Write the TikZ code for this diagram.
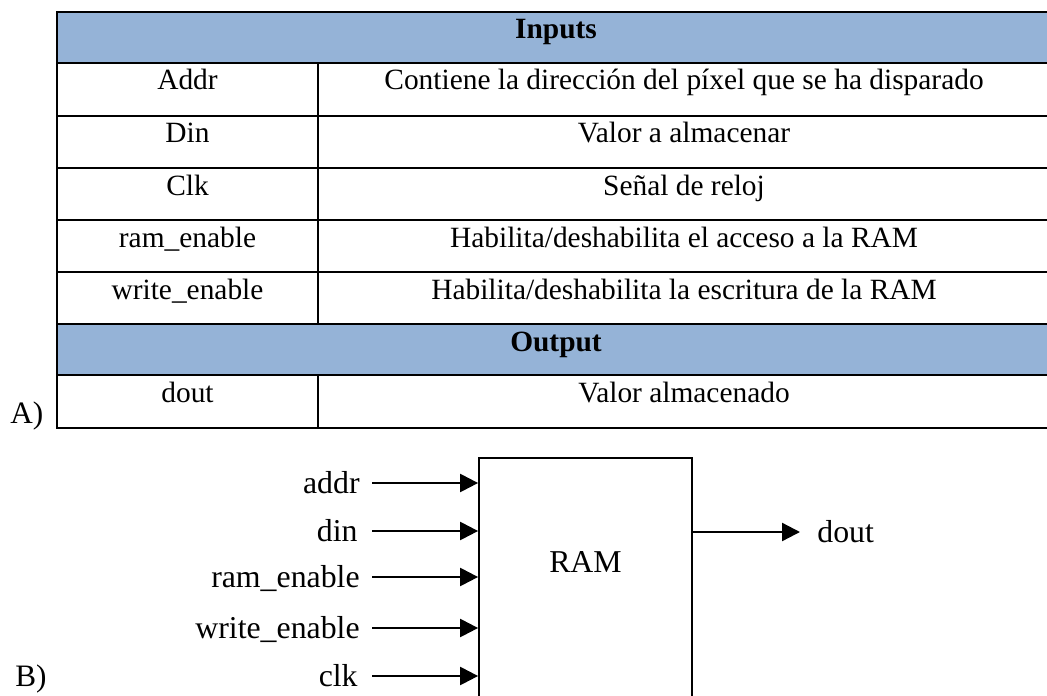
\documentclass[tikz,border=0pt]{standalone}
\usepackage{fontspec}
\setmainfont{Liberation Serif}
\usetikzlibrary{arrows.meta}
\definecolor{hdr}{HTML}{95B3D7}
\begin{document}
\begin{tikzpicture}[x=0.5pt,y=-0.5pt,
  grid/.style={line width=1.1pt},
  tcell/.style={anchor=base, inner sep=0pt, font=\fontsize{14.7}{17}\selectfont},
  thead/.style={anchor=base, inner sep=0pt, font=\fontsize{14.7}{17}\selectfont\bfseries},
  sig/.style={inner sep=0pt, text height=10pt, text depth=0pt, font=\fontsize{15.9}{18}\selectfont},
  arr/.style={line width=1.15pt, -{Triangle[length=9pt,width=9pt]}},
  blk/.style={draw, line width=0.9pt, minimum width=106.5pt, minimum height=135pt, inner sep=0pt},
  tag/.style={anchor=base west, inner sep=0pt, font=\fontsize{15.6}{18}\selectfont}]
\useasboundingbox (0,0) rectangle (1047,695);
% table
\fill[hdr] (57,12) rectangle (1047,63);
\fill[hdr] (57,324) rectangle (1047,375);
\draw[grid] (1047,12) -- (57,12) -- (57,428) -- (1047,428);
\foreach \y in {63,116,168,220,272,324,375} \draw[grid] (57,\y) -- (1047,\y);
\draw[grid] (318,63) -- (318,324);
\draw[grid] (318,375) -- (318,428);
\node[thead] (hin) at (556,39) {Inputs};
\node[tcell] (l1) at (187.5,90) {Addr};
\node[tcell] (r1) at (684,90) {Contiene la dirección del píxel que se ha disparado};
\node[tcell] (l2) at (187.5,143) {Din};
\node[tcell] (r2) at (684,143) {Valor a almacenar};
\node[tcell] (l3) at (187.5,195) {Clk};
\node[tcell] (r3) at (684,195) {Señal de reloj};
\node[tcell] (l4) at (187.5,247) {ram\_enable};
\node[tcell] (r4) at (684,247) {Habilita/deshabilita el acceso a la RAM};
\node[tcell] (l5) at (187.5,299) {write\_enable};
\node[tcell] (r5) at (684,299) {Habilita/deshabilita la escritura de la RAM};
\node[thead] (hout) at (556,351) {Output};
\node[tcell] (l6) at (187.5,402) {dout};
\node[tcell] (r6) at (684,402) {Valor almacenado};
\node[tag] (la) at (10,423) {A)};
% block diagram
\node[blk] (ram) at (585.5,593) {};
\node[sig] (ramt) at (585.5,562) {RAM};
\node[sig, anchor=east] (addr) at (360,483) {addr};
\node[sig, anchor=east] (din) at (358,531) {din};
\node[sig, anchor=east] (ren) at (360,577) {ram\_enable};
\node[sig, anchor=east] (wen) at (360,628) {write\_enable};
\node[sig, anchor=east] (clk) at (358,676) {clk};
\node[sig, anchor=west] (dout) at (817,532) {dout};
\foreach \s in {addr,din,ren,wen,clk}
  \draw[arr] (\s.east -| 372,0) -- (\s.east -| ram.west);
\draw[arr] (dout.west -| ram.east) -- ([xshift=-8.5pt]dout.west);
\node[tag] (lb) at (15,686) {B)};
\end{tikzpicture}
\end{document}
